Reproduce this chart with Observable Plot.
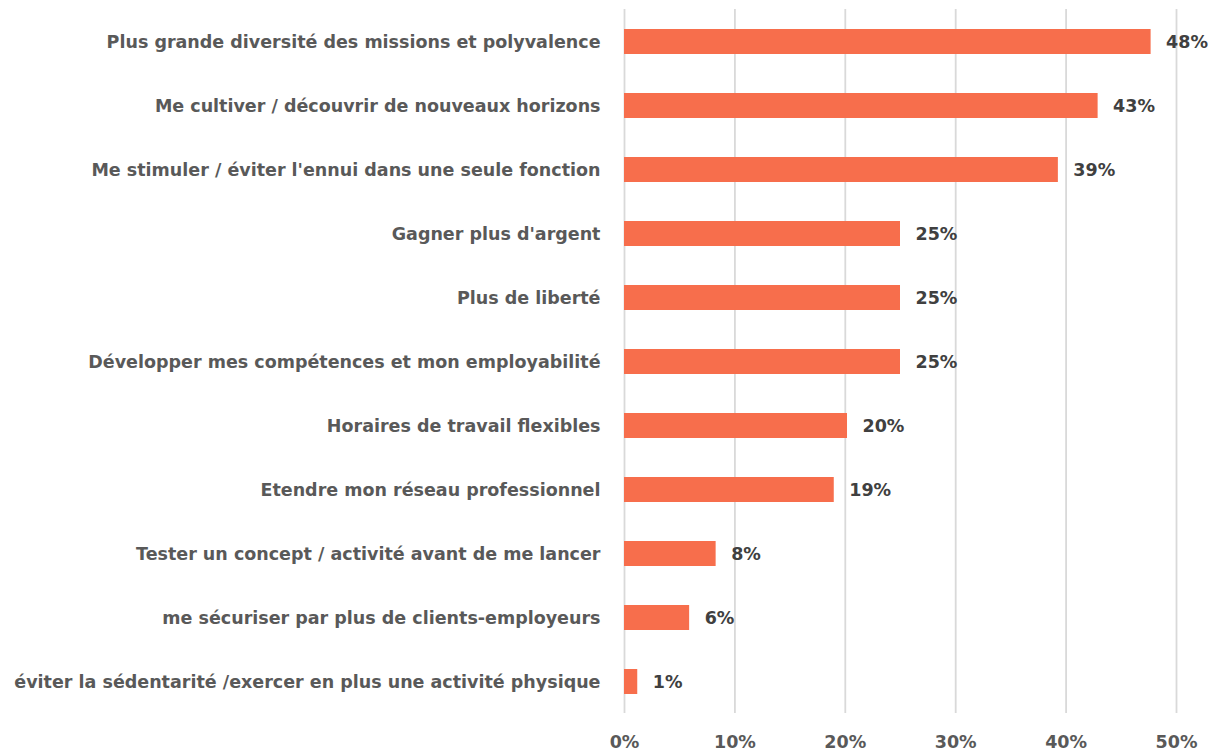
<!DOCTYPE html>
<html>
<head>
<meta charset="utf-8">
<script src="https://cdn.jsdelivr.net/npm/d3@7"></script>
<script src="https://cdn.jsdelivr.net/npm/@observablehq/plot@0.6"></script>
<style>
  html, body { margin: 0; padding: 0; background: #fff; }
</style>
</head>
<body>
<div id="chart"></div>
<script>
const categories = [
  "Plus grande diversité des missions et polyvalence",
  "Me cultiver / découvrir de nouveaux horizons",
  "Me stimuler / éviter l'ennui dans une seule fonction",
  "Gagner plus d'argent",
  "Plus de liberté",
  "Développer mes compétences et mon employabilité",
  "Horaires de travail flexibles",
  "Etendre mon réseau professionnel",
  "Tester un concept / activité avant de me lancer",
  "me sécuriser par plus de clients-employeurs",
  "éviter la sédentarité /exercer en plus une activité physique"
];
const values = [47.7, 42.9, 39.3, 25.0, 25.0, 25.0, 20.2, 19.0, 8.3, 5.9, 1.2];
const xTicks = [0, 10, 20, 30, 40, 50];

const data = categories.map((c, i) => ({category: c, value: values[i]}));

const chart = Plot.plot({
  width: 1210,
  height: 754,
  marginLeft: 624,
  marginRight: 34,
  marginTop: 9,
  marginBottom: 41,
  style: {fontFamily: "'DejaVu Sans', sans-serif", fontSize: "17.5px", fontWeight: "bold", color: "#595959", background: "#fff"},
  x: {domain: [0, 50], ticks: xTicks, tickFormat: d => d + "%", label: null},
  y: {domain: categories, paddingInner: 0.61, paddingOuter: 0.3, label: null},
  marks: [
    Plot.gridX(xTicks, {stroke: "#d9d9d9", strokeOpacity: 1, strokeWidth: 1.8}),
    Plot.barX(data, {x: "value", y: "category", fill: "#F76E4C"}),
    Plot.text(data, {x: "value", y: "category", text: d => Math.round(d.value) + "%", dx: 15, textAnchor: "start", fill: "#404040", fontSize: 17.5, fontWeight: "bold"}),
    Plot.axisX({ticks: xTicks, tickFormat: d => d + "%", tickSize: 0, tickPadding: 22, label: null}),
    Plot.axisY({tickSize: 0, tickPadding: 24, label: null})
  ]
});
document.getElementById("chart").appendChild(chart);
</script>
</body>
</html>
